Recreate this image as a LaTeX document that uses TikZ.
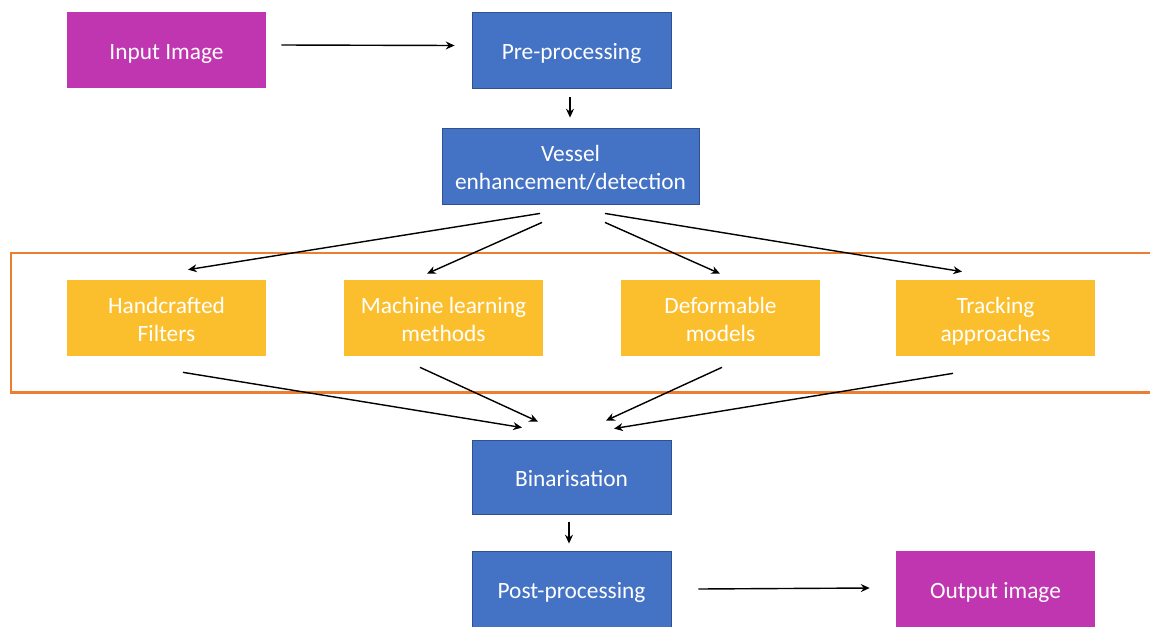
\documentclass[tikz,border=0pt]{standalone}
\usepackage{fontspec}
\setmainfont{Carlito}
\usetikzlibrary{arrows.meta}
\definecolor{magentabox}{HTML}{C036B0}
\definecolor{bluebox}{HTML}{4472C4}
\definecolor{blueedge}{HTML}{2F528F}
\definecolor{goldbox}{HTML}{FBBF2D}
\definecolor{framecol}{HTML}{ED7D31}
% taller strut for the first line of a label, ordinary \strut for the last
\newcommand\firstline{\rule{0pt}{15.4pt}}
\tikzset{
  box/.style={rectangle, inner sep=0pt, align=center, text=white,
    minimum width=3.98cm, minimum height=1.52cm,
    font=\fontsize{13.3}{15.5}\selectfont},
  iobox/.style={box, fill=magentabox},
  stagebox/.style={box, fill=bluebox, draw=blueedge, line width=0.5pt},
  methodbox/.style={box, fill=goldbox},
  arr/.style={-{Stealth[length=5pt,width=4.5pt]}, line width=0.8pt, black},
  methodframe/.style={draw=framecol, line width=1.7pt}
}
\begin{document}
\begin{tikzpicture}[x=0.02cm, y=-0.02cm]
\useasboundingbox (0,0) rectangle (1150,626);
\clip (0,0) rectangle (1150,626);

% frame around the family of enhancement methods
\draw[methodframe] (11,253) rectangle (1165,392);

% pipeline stages
\node[iobox] (in) at (166.5,50) {\firstline Input Image\strut};
\node[stagebox] (pre) at (571.5,50.5) {\firstline Pre-processing\strut};
\node[stagebox, minimum width=5.14cm] (ves) at (570.5,166) {\firstline Vessel\\enhancement/detection\strut};

\node[methodbox] (hand) at (166.5,318) {\firstline Handcrafted\\Filters\strut};
\node[methodbox] (ml) at (443.5,318) {\firstline Machine learning\\methods\strut};
\node[methodbox] (def) at (720.5,318) {\firstline Deformable\\models\strut};
\node[methodbox] (trk) at (995.5,318) {\firstline Tracking\\approaches\strut};

\node[stagebox, minimum height=1.48cm] (bin) at (571.5,477) {\firstline Binarisation\strut};
\node[stagebox] (post) at (571.5,589) {\firstline Post-processing\strut};
\node[iobox] (out) at (995.5,589) {\firstline Output image\strut};

% connectors
\draw[arr] ([shift={(15,-5)}]in.east) -- ([shift={(-17,-5)}]pre.west);
\draw[arr] ([shift={(-1.5,8)}]pre.south) -- ([shift={(-0.5,-10)}]ves.north);

\draw[arr] ([shift={(-30.5,9)}]ves.south) -- ([shift={(21.5,-10)}]hand.north);
\draw[arr] ([shift={(-28.5,18)}]ves.south) -- ([shift={(-16.5,-6)}]ml.north);
\draw[arr] ([shift={(34.5,18)}]ves.south) -- ([shift={(-0.5,-6)}]def.north);
\draw[arr] ([shift={(34.5,9)}]ves.south) -- ([shift={(-33.5,-8)}]trk.north);

\draw[arr] ([shift={(16.5,16)}]hand.south) -- ([shift={(-49.5,-12)}]bin.north);
\draw[arr] ([shift={(-23.5,11)}]ml.south) -- ([shift={(-33.5,-18)}]bin.north);
\draw[arr] ([shift={(1.5,11)}]def.south) -- ([shift={(34.5,-19)}]bin.north);
\draw[arr] ([shift={(-42.5,17)}]trk.south) -- ([shift={(42.5,-11)}]bin.north);

\draw[arr] ([shift={(-2.5,8)}]bin.south) -- ([shift={(-2.5,-7)}]post.north);
\draw[arr] ([shift={(27,0)}]post.east) -- ([shift={(-26,-1)}]out.west);
\end{tikzpicture}
\end{document}
